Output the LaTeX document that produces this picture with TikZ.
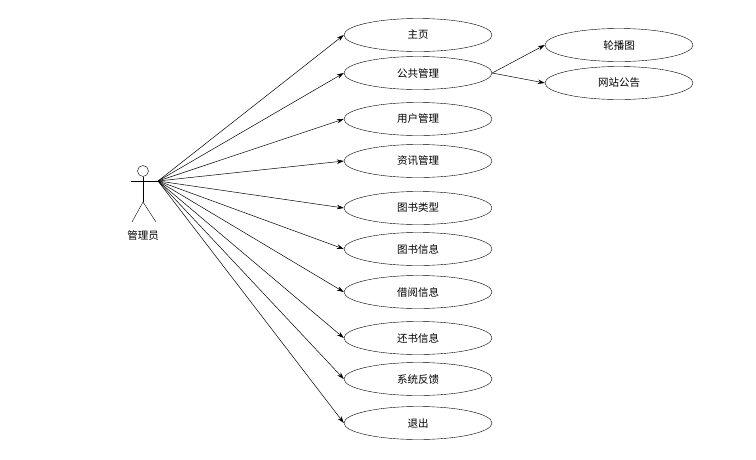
\documentclass[tikz,border=0pt]{standalone}
\usepackage{fontspec}
\newfontfamily\cjk{Noto Sans CJK SC}
\usetikzlibrary{arrows.meta,shapes.geometric}
\begin{document}
\begin{tikzpicture}[x=1pt,y=-1pt,
  uc/.style={draw,ellipse,minimum width=148pt,minimum height=33pt,inner sep=0pt,font=\cjk\fontsize{10.5}{12}\selectfont},
  conn/.style={-{Stealth[length=7pt,width=4.5pt]},line width=0.5pt}]
\useasboundingbox (0,0) rectangle (756,459);
\draw (143,171) circle (5.5);
\draw (131,181) -- (158,181);
\draw (143,176.5) -- (143,202);
\draw (132,222) -- (143,202) -- (156,222);
\node[font=\cjk\fontsize{10.5}{12}\selectfont] at (143,236) {管理员};
\coordinate (a) at (158,181);
\foreach \n/\y/\t in {u1/35/主页,u2/73/公共管理,u3/119/用户管理,u4/161/资讯管理,u5/208/图书类型,u6/249/图书信息,u7/292/借阅信息,u8/338/还书信息,u9/379/系统反馈,u10/423/退出}{
  \node[uc] (\n) at (418,\y) {\t};
  \draw[conn] (a) -- (\n.west);
}
\node[uc] (r1) at (619,45) {轮播图};
\node[uc] (r2) at (619,83) {网站公告};
\draw[conn] (u2.east) -- (r1.west);
\draw[conn] (u2.east) -- (r2.west);
\end{tikzpicture}
\end{document}
